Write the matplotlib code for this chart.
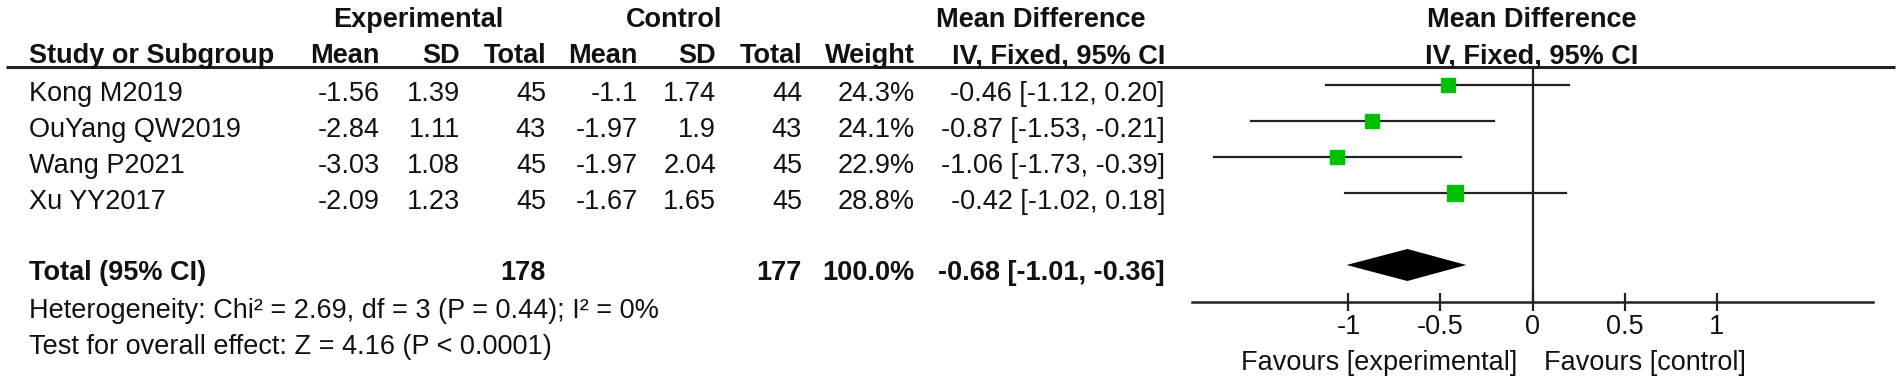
import matplotlib

matplotlib.use("Agg")
import matplotlib.pyplot as plt

# Data
studies = ["Kong M2019", "OuYang QW2019", "Wang P2021", "Xu YY2017"]
exp_mean = [-1.56, -2.84, -3.03, -2.09]
exp_sd = [1.39, 1.11, 1.08, 1.23]
exp_n = [45, 43, 45, 45]
ctl_mean = [-1.1, -1.97, -1.97, -1.67]
ctl_sd = [1.74, 1.9, 2.04, 1.65]
ctl_n = [44, 43, 45, 45]
weights = [24.3, 24.1, 22.9, 28.8]
md = [-0.46, -0.87, -1.06, -0.42]
ci_lo = [-1.12, -1.53, -1.73, -1.02]
ci_hi = [0.20, -0.21, -0.39, 0.18]
total_exp_n = 178
total_ctl_n = 177
total_weight = 100.0
total_md = -0.68
total_lo = -1.01
total_hi = -0.36
heterogeneity = "Heterogeneity: Chi\u00b2 = 2.69, df = 3 (P = 0.44); I\u00b2 = 0%"
overall = "Test for overall effect: Z = 4.16 (P < 0.0001)"
tick_vals = [-1, -0.5, 0, 0.5, 1]
tick_labels = ["-1", "-0.5", "0", "0.5", "1"]

plt.rcParams["font.family"] = ["Liberation Sans", "DejaVu Sans"]
FS = 19.5
TXT = "#111111"

W, H = 1902, 383
fig = plt.figure(figsize=(W / 100, H / 100), dpi=100)

# Layout axis in pixel units for the table part
tab = fig.add_axes([0, 0, 1, 1])
tab.set_xlim(0, W)
tab.set_ylim(H, 0)
tab.axis("off")

# Forest plot axis
px_left, px_right = 1192, 1873
ax = fig.add_axes([px_left / W, 0, (px_right - px_left) / W, 1])
ax.set_xlim(-1.85, 1.85)
ax.set_ylim(H, 0)
ax.patch.set_alpha(0)

row0, gap = 85, 36
row_y = [row0 + gap * i for i in range(len(studies))]
total_y = row0 + gap * (len(studies) + 1)
base = 16  # text baseline offset below row centre

# Header
head1, head2, line_y = 27, 63, 67
tab.text(418, head1, "Experimental", ha="center", va="baseline", fontsize=FS, fontweight="bold", color=TXT)
tab.text(674, head1, "Control", ha="center", va="baseline", fontsize=FS, fontweight="bold", color=TXT)
tab.text(1041, head1, "Mean Difference", ha="center", va="baseline", fontsize=FS, fontweight="bold", color=TXT)
tab.text(1532, head1, "Mean Difference", ha="center", va="baseline", fontsize=FS, fontweight="bold", color=TXT)
tab.text(1532, head2, "IV, Fixed, 95% CI", ha="center", va="baseline", fontsize=FS, fontweight="bold", color=TXT)
tab.text(29, head2, "Study or Subgroup", ha="left", va="baseline", fontsize=FS, fontweight="bold", color=TXT)

col_right = [380, 460, 546, 638, 716, 802, 915, 1165]
col_heads = ["Mean", "SD", "Total", "Mean", "SD", "Total", "Weight", "IV, Fixed, 95% CI"]
for x, h in zip(col_right, col_heads):
    tab.text(x, head2, h, ha="right", va="baseline", fontsize=FS, fontweight="bold", color=TXT)

tab.plot([6, 1895], [line_y, line_y], color="#222222", lw=2.2, solid_capstyle="butt")

# Study rows
for i, name in enumerate(studies):
    yb = row_y[i] + base
    tab.text(29, yb, name, ha="left", va="baseline", fontsize=FS, color=TXT)
    cells = [str(exp_mean[i]), str(exp_sd[i]), str(exp_n[i]), str(ctl_mean[i]), str(ctl_sd[i]),
             str(ctl_n[i]), f"{weights[i]:.1f}%", f"{md[i]:.2f} [{ci_lo[i]:.2f}, {ci_hi[i]:.2f}]"]
    for x, c in zip(col_right, cells):
        tab.text(x, yb, c, ha="right", va="baseline", fontsize=FS, color=TXT)

# Total row
yb = total_y + base - 1
tab.text(29, yb, "Total (95% CI)", ha="left", va="baseline", fontsize=FS, fontweight="bold", color=TXT)
tab.text(col_right[2], yb, str(total_exp_n), ha="right", va="baseline", fontsize=FS, fontweight="bold", color=TXT)
tab.text(col_right[5], yb, str(total_ctl_n), ha="right", va="baseline", fontsize=FS, fontweight="bold", color=TXT)
tab.text(col_right[6], yb, f"{total_weight:.1f}%", ha="right", va="baseline", fontsize=FS, fontweight="bold", color=TXT)
tab.text(col_right[7], yb, f"{total_md:.2f} [{total_lo:.2f}, {total_hi:.2f}]", ha="right", va="baseline",
         fontsize=FS, fontweight="bold", color=TXT)
tab.text(29, 318, heterogeneity, ha="left", va="baseline", fontsize=FS, color=TXT)
tab.text(29, 354, overall, ha="left", va="baseline", fontsize=FS, color=TXT)

# Forest plot: CI lines and weighted squares
axis_y = 302
ax.vlines(0, line_y, axis_y, color="#222222", lw=1.6)
for i in range(len(studies)):
    ax.plot([ci_lo[i], ci_hi[i]], [row_y[i], row_y[i]], color="#222222", lw=1.6)
    side = 2.05 * weights[i] ** 0.5  # marker side in points
    ax.plot(md[i], row_y[i], marker="s", ms=side, color="#00c000", mec="#00c000", ls="none")

# Pooled diamond
half_h = 16
ax.fill([total_lo, total_md, total_hi, total_md],
        [total_y, total_y - half_h, total_y, total_y + half_h], color="black", lw=0)

# Bottom axis
for s in ["top", "left", "right"]:
    ax.spines[s].set_visible(False)
ax.spines["bottom"].set_position(("data", axis_y))
ax.spines["bottom"].set_linewidth(1.8)
ax.spines["bottom"].set_color("#222222")
ax.set_yticks([])
ax.set_xticks(tick_vals)
ax.set_xticklabels(tick_labels)
ax.tick_params(axis="x", direction="inout", length=13, width=1.6, color="#222222", pad=2,
               labelsize=FS, labelcolor=TXT)

tab.text(1517, 370, "Favours [experimental]", ha="right", va="baseline", fontsize=FS, color=TXT)
tab.text(1544, 370, "Favours [control]", ha="left", va="baseline", fontsize=FS, color=TXT)

fig.savefig("out.png", dpi=100)
